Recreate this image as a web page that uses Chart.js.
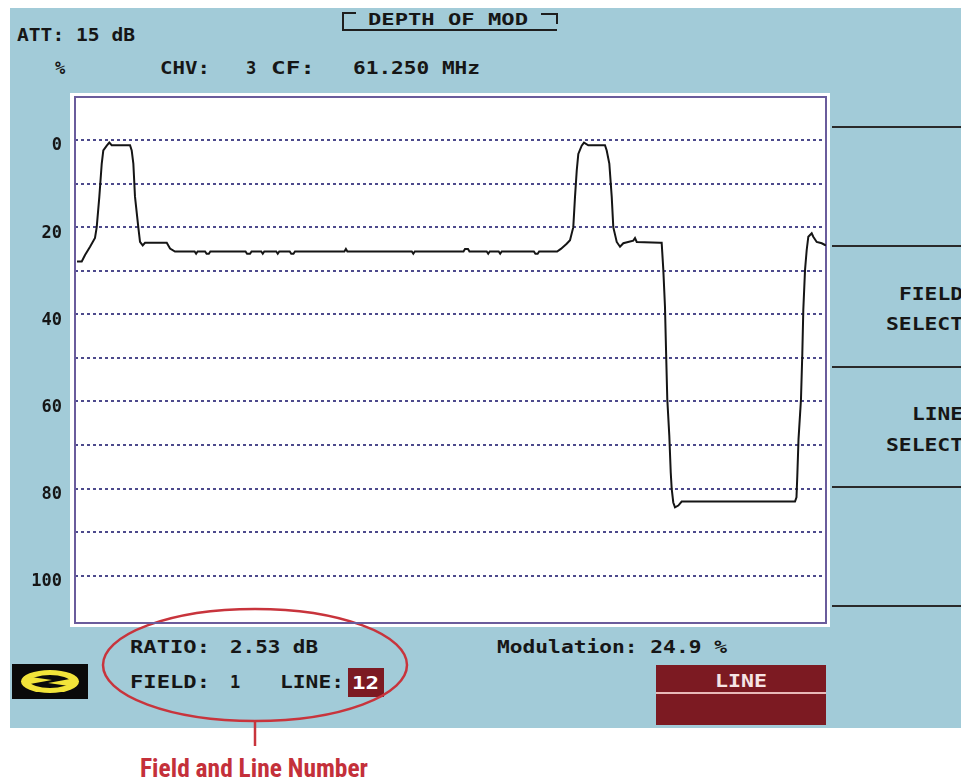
<!DOCTYPE html>
<html>
<head>
<meta charset="utf-8">
<script src="https://cdn.jsdelivr.net/npm/chart.js@4/dist/chart.umd.min.js"></script>
<style>
  html, body { margin:0; padding:0; width:961px; height:780px; overflow:hidden; background:#ffffff; }
  #panel { position:absolute; left:10px; top:8px; width:951px; height:720px; background:#a2cbd8; }
  #plotbg { position:absolute; left:70px; top:93px; width:760px; height:534px; background:#ffffff; }
  #deco { position:absolute; left:0; top:0; }
  #wrap { position:absolute; left:0; top:0; width:961px; height:780px; }
  .m { font-family:"DejaVu Sans Mono","Liberation Mono",monospace; font-weight:bold; font-size:17px; fill:#161616; }
</style>
</head>
<body>
<div id="panel"></div>
<div id="plotbg"></div>
<svg id="deco" width="961" height="780" viewBox="0 0 961 780">
  <!-- header -->
  <text class="m" x="17" y="41" textLength="118" lengthAdjust="spacingAndGlyphs">ATT: 15 dB</text>
  <path d="M356 13 H343 V30 H557 M541 14 H557 V24" stroke="#1e1e1e" stroke-width="2" fill="none"/>
  <text class="m" x="368" y="25" textLength="160" lengthAdjust="spacingAndGlyphs" style="font-size:16px">DEPTH OF MOD</text>
  <text class="m" x="55" y="74">%</text>
  <text class="m" x="160" y="74" textLength="50" lengthAdjust="spacingAndGlyphs">CHV:</text>
  <text class="m" x="246" y="74">3</text>
  <text class="m" x="271" y="74" textLength="44" lengthAdjust="spacingAndGlyphs">CF:</text>
  <text class="m" x="353" y="74" textLength="127" lengthAdjust="spacingAndGlyphs">61.250 MHz</text>
  <!-- right soft keys -->
  <path d="M832 127 H961 M832 246 H961 M832 367 H961 M832 487 H961 M832 606 H961" stroke="#2a2a2a" stroke-width="2"/>
  <text class="m" x="899" y="300" textLength="64" lengthAdjust="spacingAndGlyphs">FIELD</text>
  <text class="m" x="886" y="330" textLength="77" lengthAdjust="spacingAndGlyphs">SELECT</text>
  <text class="m" x="912" y="420" textLength="51" lengthAdjust="spacingAndGlyphs">LINE</text>
  <text class="m" x="886" y="451" textLength="77" lengthAdjust="spacingAndGlyphs">SELECT</text>
  <!-- bottom readouts -->
  <text class="m" x="130" y="653" textLength="80" lengthAdjust="spacingAndGlyphs">RATIO:</text>
  <text class="m" x="230" y="653" textLength="88" lengthAdjust="spacingAndGlyphs">2.53 dB</text>
  <text class="m" x="130" y="688" textLength="80" lengthAdjust="spacingAndGlyphs">FIELD:</text>
  <text class="m" x="230" y="688">1</text>
  <text class="m" x="280" y="688" textLength="64" lengthAdjust="spacingAndGlyphs">LINE:</text>
  <rect x="348" y="668" width="36" height="29" fill="#7c1a22"/>
  <text class="m" x="352" y="689" textLength="27" lengthAdjust="spacingAndGlyphs" style="fill:#ffffff">12</text>
  <text class="m" x="497" y="653" textLength="230" lengthAdjust="spacingAndGlyphs">Modulation: 24.9 %</text>
  <rect x="656" y="665" width="170" height="27" fill="#7c1a22"/>
  <rect x="656" y="692" width="170" height="2" fill="#e8b9b9"/>
  <rect x="656" y="694" width="170" height="31" fill="#7c1a22"/>
  <text class="m" x="715" y="687" textLength="52" lengthAdjust="spacingAndGlyphs" style="fill:#f6e4e4">LINE</text>
  <!-- logo -->
  <rect x="12" y="664" width="76" height="35" fill="#0a0a0a"/>
  <ellipse cx="50" cy="681.5" rx="29" ry="11.5" fill="#f2e43a"/>
  <ellipse cx="50" cy="681.5" rx="20" ry="6.5" fill="#0a0a0a"/>
  <path d="M24 676 L52 680 L30 684 Z" fill="#f2e43a"/>
  <path d="M76 687 L48 683 L70 679 Z" fill="#f2e43a"/>
  <!-- annotation -->
  <ellipse cx="255" cy="665" rx="152" ry="56" fill="none" stroke="#c8343c" stroke-width="2.5"/>
  <line x1="255" y1="721" x2="255" y2="746" stroke="#c8343c" stroke-width="2.5"/>
  <text x="140" y="777" textLength="228" lengthAdjust="spacingAndGlyphs"
        style="font-family:'Liberation Sans Narrow','Roboto Condensed',Roboto,sans-serif;font-weight:bold;font-size:25px;fill:#c4303a">Field and Line Number</text>
</svg>
<div id="wrap"><canvas id="c" width="961" height="780"></canvas></div>
<script>
// Sweep time (µs) and depth of modulation (%)
const sweepTime = [
  0, 0.63, 1.07, 1.74, 2.40, 2.63, 2.98, 3.30, 3.51, 3.97, 4.31, 4.63,
  7.08, 7.30, 7.52, 7.74, 8.18, 8.41, 8.77, 9.08, 11.98, 12.42, 13.08,
  15.7, 15.9, 16.1, 17.1, 17.3, 17.6, 17.8,
  22.5, 22.7, 23.1, 23.3, 24.6, 24.8, 25.0, 26.6, 26.8, 27.0,
  28.4, 28.6, 28.9, 29.1, 35.7, 35.9, 36.1, 44.7, 44.9, 45.1,
  51.6, 51.8, 52.2, 52.4, 54.7, 54.9, 55.1, 56.3, 56.5, 56.7,
  61.0, 61.2, 61.5, 61.7, 64.1, 64.6, 65.38, 65.82, 66.26, 66.49,
  66.72, 66.93, 67.38, 67.69, 68.26, 70.49, 70.72, 71.07, 71.39, 71.60,
  72.06, 72.50, 72.94, 74.27, 74.5, 74.73, 77.84, 78.06,
  78.28, 78.50, 78.64, 78.81, 79.08, 79.27, 79.40, 79.61, 79.84, 80.28, 80.73,
  95.86, 96.06, 96.17, 96.33, 96.66, 96.84, 96.97, 97.20, 97.42, 97.64,
  98.09, 98.30, 98.76, 99.43, 99.87, 100
];
const depthPct = [
  27.9, 27.9, 26.4, 24.5, 22.5, 20, 13, 5.4, 2.4, 1.3, 0.6, 1.2,
  1.2, 2.4, 5.4, 13, 20, 23.4, 24.2, 23.6, 23.6, 24.9, 25.6,
  25.6, 26.1, 25.6, 25.6, 26.1, 26.1, 25.6,
  25.6, 26.1, 26.1, 25.6, 25.6, 26.1, 25.6, 25.6, 26.1, 25.6,
  25.6, 26.1, 26.1, 25.6, 25.6, 25.0, 25.6, 25.6, 26.1, 25.6,
  25.6, 25.0, 25.0, 25.6, 25.6, 26.1, 25.6, 25.6, 26.1, 25.6,
  25.6, 26.1, 26.1, 25.6, 25.6, 25.0, 23.8, 23, 20, 13,
  7, 3.2, 1.3, 0.6, 1.2, 1.2, 2.4, 5.4, 13, 20,
  23.4, 24.5, 23.7, 23.1, 22.5, 23.4, 23.6, 23.6,
  29.8, 38.2, 48.1, 59.5, 67.9, 76.3, 80.1, 83.2, 84.3, 83.9, 83.0,
  83.0, 82, 77, 68.7, 59.5, 48.9, 39, 29.8, 25.3, 22.2,
  21.4, 22.2, 23.4, 23.7, 24.1, 24.2
];
const yTickValues = [0, 10, 20, 30, 40, 50, 60, 70, 80, 90, 100];
const yLabelValues = [0, 20, 40, 60, 80, 100];

const framePlugin = {
  id: 'frame',
  beforeDatasetsDraw(chart) {
    const a = chart.chartArea, ctx = chart.ctx;
    ctx.save();
    ctx.strokeStyle = '#6a5c9c';
    ctx.lineWidth = 2;
    ctx.strokeRect(a.left, a.top, a.right - a.left, a.bottom - a.top);
    ctx.restore();
  }
};

new Chart(document.getElementById('c'), {
  type: 'line',
  data: {
    datasets: [{
      data: sweepTime.map((t, i) => ({ x: t, y: depthPct[i] })),
      borderColor: '#151515',
      borderWidth: 2,
      pointRadius: 0,
      tension: 0,
      fill: false
    }]
  },
  options: {
    responsive: false,
    animation: false,
    events: [],
    layout: { padding: { top: 97, bottom: 157, left: 0, right: 135 } },
    plugins: { legend: { display: false }, tooltip: { enabled: false } },
    scales: {
      x: {
        type: 'linear', min: -0.27, max: 100,
        display: false
      },
      y: {
        type: 'linear', reverse: true, min: -9.87, max: 110.86,
        afterFit(scale) { scale.width = 75; },
        afterBuildTicks(scale) { scale.ticks = yTickValues.map(v => ({ value: v })); },
        grid: { color: '#4d4a8c', lineWidth: 2, drawTicks: false },
        border: { display: false, dash: [3, 3] },
        ticks: {
          padding: 13,
          labelOffset: 6,
          color: '#161616',
          font: { family: '"DejaVu Sans Mono", "Liberation Mono", monospace', weight: 'bold', size: 17 },
          callback(v) { return yLabelValues.includes(v) ? String(v) : ''; }
        }
      }
    }
  },
  plugins: [framePlugin]
});
</script>
</body>
</html>
